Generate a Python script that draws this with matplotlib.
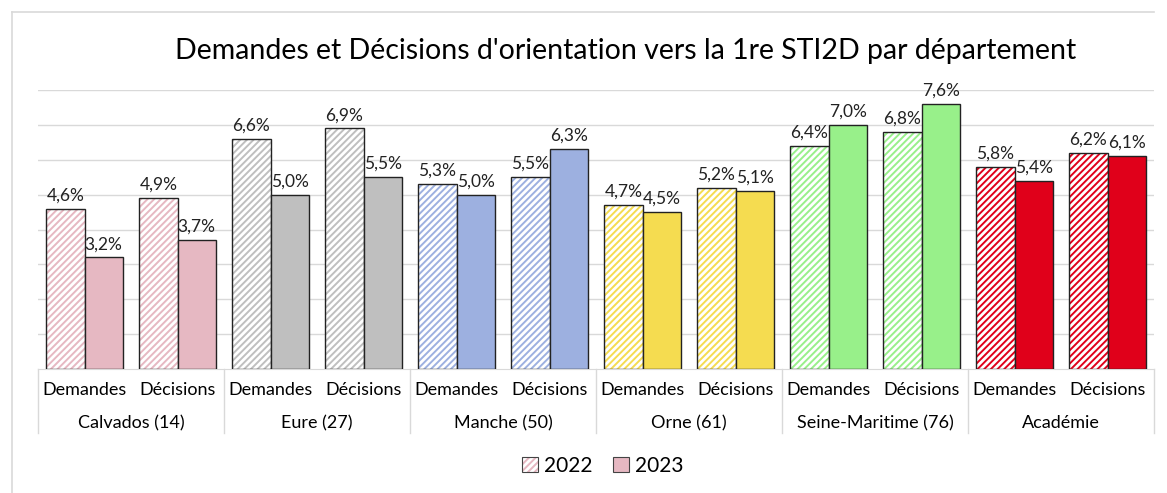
import matplotlib.pyplot as plt
import matplotlib.patches as mpatches
from matplotlib.lines import Line2D
import numpy as np

plt.rcParams['font.family'] = ['Lato', 'DejaVu Sans']
plt.rcParams['hatch.linewidth'] = 1.4

# data
departements = ['Calvados (14)', 'Eure (27)', 'Manche (50)', 'Orne (61)',
                'Seine-Maritime (76)', 'Académie']
types = ['Demandes', 'Décisions']
# values per departement: [Demandes, Décisions]
val_2022 = [[4.6, 4.9], [6.6, 6.9], [5.3, 5.5], [4.7, 5.2], [6.4, 6.8], [5.8, 6.2]]
val_2023 = [[3.2, 3.7], [5.0, 5.5], [5.0, 6.3], [4.5, 5.1], [7.0, 7.6], [5.4, 6.1]]
couleurs = ['#E6B8C2', '#BFBFBF', '#9DB0E0', '#F5DC50', '#98F08A', '#E0001A']

fig = plt.figure(figsize=(11.67, 4.93), dpi=100)
ax = fig.add_axes([38 / 1167, 1 - 369 / 493, (1154 - 38) / 1167, (369 - 90) / 493])

w = 0.41
n = len(departements) * len(types)
x = np.arange(n)
for d in range(len(departements)):
    for t in range(len(types)):
        i = d * 2 + t
        c = couleurs[d]
        v1 = val_2022[d][t]
        v2 = val_2023[d][t]
        # hatched 2022
        ax.bar(x[i] - w / 2, v1, w, color='white', edgecolor=c, hatch='/////', linewidth=0, zorder=2)
        ax.bar(x[i] - w / 2, v1, w, fill=False, edgecolor='#222222', linewidth=1, zorder=3)
        # solid 2023
        ax.bar(x[i] + w / 2, v2, w, color=c, edgecolor='#222222', linewidth=1, zorder=3)
        for xx, v in [(x[i] - w / 2, v1), (x[i] + w / 2, v2)]:
            ax.text(xx, v + 0.15, ('%.1f%%' % v).replace('.', ','), ha='center', va='bottom',
                    fontsize=12.5, color='#222222')

ax.set_xlim(-0.5, n - 0.5)
ax.set_ylim(0, 8)
ax.set_yticks(np.arange(1, 9))
ax.yaxis.grid(True, color='#D9D9D9', linewidth=1)
ax.set_axisbelow(True)
ax.tick_params(left=False, bottom=False, labelleft=False, labelbottom=False)
for s in ['left', 'right', 'top']:
    ax.spines[s].set_visible(False)
ax.spines['bottom'].set_color('#D9D9D9')

trans = ax.get_xaxis_transform()
for i in range(n):
    ax.text(x[i], -0.075, types[i % 2], transform=trans, ha='center', va='center', fontsize=13)
for d in range(len(departements)):
    ax.text(d * 2 + 0.5, -0.194, departements[d], transform=trans, ha='center', va='center', fontsize=13)
for k in range(len(departements) + 1):
    ax.add_line(Line2D([k * 2 - 0.5, k * 2 - 0.5], [0, -0.229], transform=trans,
                       color='#D9D9D9', linewidth=1, clip_on=False))

fig.suptitle("Demandes et Décisions d'orientation vers la 1re STI2D par département",
             x=626 / 1167, y=1 - 51 / 493, va='center', fontsize=20.5)

h1a = mpatches.Patch(facecolor='white', edgecolor=couleurs[0], hatch='/////', linewidth=0)
h1b = mpatches.Patch(fill=False, edgecolor='#444444', linewidth=0.8)
h2 = mpatches.Patch(facecolor=couleurs[0], edgecolor='#444444', linewidth=0.8)
fig.legend([(h1a, h1b), h2], ['2022', '2023'], loc='center', bbox_to_anchor=(603 / 1167, 1 - 466 / 493),
           ncol=2, frameon=False, fontsize=15, handlelength=0.75, handleheight=0.75,
           handletextpad=0.3, columnspacing=1.0)

# chart frame
fig.add_artist(Line2D([12 / 1167, 12 / 1167], [0, 1 - 12 / 493], transform=fig.transFigure,
                      color='#D9D9D9', linewidth=1.2))
fig.add_artist(Line2D([12 / 1167, 1154 / 1167], [1 - 12 / 493, 1 - 12 / 493], transform=fig.transFigure,
                      color='#D9D9D9', linewidth=1.2))

fig.savefig('out.png', dpi=100)
